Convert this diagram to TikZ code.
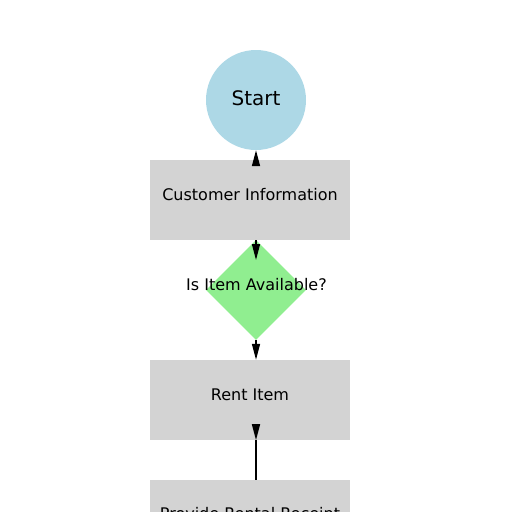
\documentclass[tikz,border=0pt]{standalone}
\usepackage{fontspec}
\setmainfont{DejaVu Sans}
\usetikzlibrary{shapes.geometric,arrows.meta}
\definecolor{startblue}{HTML}{ADD8E6}
\definecolor{boxgray}{HTML}{D3D3D3}
\definecolor{diagreen}{HTML}{90EE90}
\tikzset{
  boxnode/.style={rectangle, fill=boxgray, minimum width=200pt, minimum height=80pt, inner sep=0pt},
  startnode/.style={circle, fill=startblue, minimum size=100pt, inner sep=0pt},
  dianode/.style={diamond, fill=diagreen, minimum width=100pt, minimum height=100pt, inner sep=0pt, aspect=1},
  lbl/.style={font=\fontsize{16pt}{18pt}\selectfont, text=black, inner sep=0pt},
  arr/.style={line width=1.5pt, -{Triangle[length=16pt,width=8pt]}},
  plain/.style={line width=1.5pt}
}
\begin{document}
\begin{tikzpicture}[x=1pt,y=-1pt]
\useasboundingbox (0,0) rectangle (512,512);
\clip (0,0) rectangle (512,512);
\node[startnode] (start) at (256,100) {};
\node[lbl, font=\fontsize{20pt}{22pt}\selectfont, yshift=2pt] (startt) at (start.center) {Start};
\node[boxnode] (cust) at (250,200) {};
\node[lbl, yshift=5pt] (custt) at (cust.center) {Customer Information};
\node[dianode] (dia) at (256,290) {};
\node[lbl, yshift=5pt, xshift=0.5pt] (diat) at (dia.center) {Is Item Available?};
\node[boxnode] (rent) at (250,400) {};
\node[lbl, yshift=5pt] (rentt) at (rent.center) {Rent Item};
\node[boxnode] (receipt) at (250,520) {};
\node[lbl, yshift=4.5pt] (receiptt) at (receipt.center) {Provide Rental Receipt};
\coordinate (t2) at (256,260);
\coordinate (t4) at (256,424);
% arrows
\draw[arr] (start.south |- cust.north) -- (start.south);
\draw[arr] (start.south |- cust.south) -- (t2);
\draw[arr] (dia.south) -- (dia.south |- rent.north);
\draw[plain] (dia.south |- receipt.north) -- (dia.south |- rent.south);
\draw[arr] (t4) -- (dia.south |- rent.south);
\end{tikzpicture}
\end{document}
